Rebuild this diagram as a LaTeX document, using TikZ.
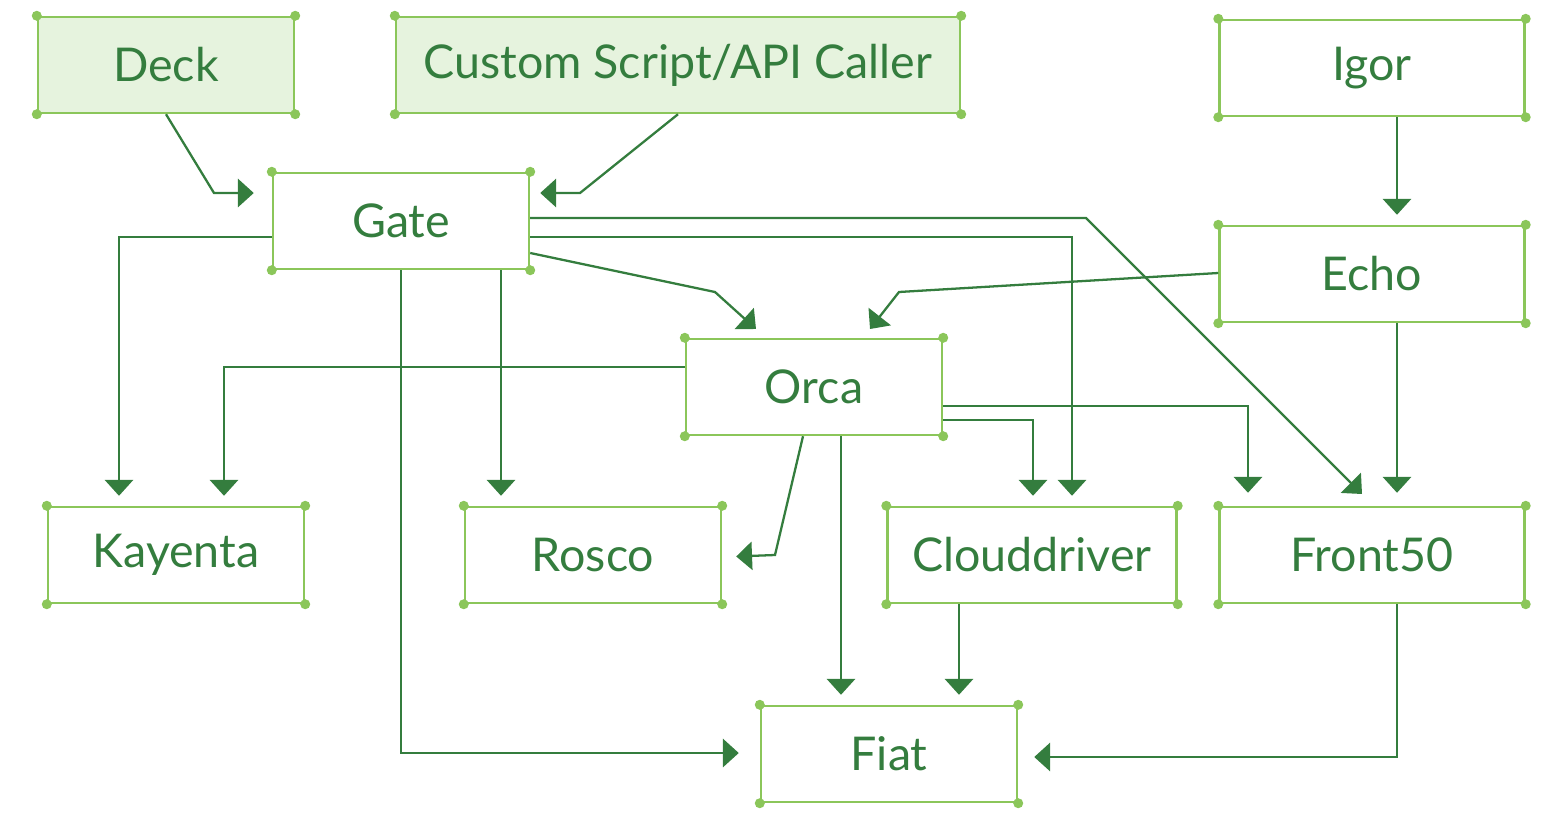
\documentclass[tikz,border=0pt]{standalone}
\usepackage{fontspec}
\setmainfont{Lato}
\usetikzlibrary{arrows.meta}
\definecolor{bord}{RGB}{139,198,90}
\definecolor{dk}{RGB}{52,125,62}
\definecolor{fl}{RGB}{230,243,222}
\tikzset{
 bx/.style={draw=bord,line width=1.4pt,text=dk,inner sep=0pt,minimum height=96*0.02cm,font=\fontsize{26.5}{30}\selectfont},
 ln/.style={draw=dk,line width=1.3pt,-{Triangle[width=16pt,length=9pt]},shorten >=10*0.02cm},
}
\newcommand{\cornerdots}[1]{\foreach \a in {north west,north east,south west,south east}{\fill[bord] (#1.\a) circle (5*0.02cm);}}
\begin{document}
\begin{tikzpicture}[x=0.02cm,y=-0.02cm]
\useasboundingbox (0,0) rectangle (1542,822);
\node[bx,fill=fl,minimum width=256*0.02cm] (deck) at (166,65) {Deck};
\node[bx,fill=fl,minimum width=564*0.02cm] (cust) at (678,65) {Custom Script/API Caller};
\node[bx,minimum width=305*0.02cm] (igor) at (1372,68) {Igor};
\node[bx,minimum width=256*0.02cm] (gate) at (401,221) {Gate};
\node[bx,minimum width=305*0.02cm] (echo) at (1372,274) {Echo};
\node[bx,minimum width=256*0.02cm] (orca) at (814,387) {Orca};
\node[bx,minimum width=256*0.02cm] (kay) at (176,555) {Kayenta};
\node[bx,minimum width=256*0.02cm] (rosco) at (593,555) {Rosco};
\node[bx,minimum width=289*0.02cm] (cloud) at (1032,555) {Clouddriver};
\node[bx,minimum width=305*0.02cm] (front) at (1372,555) {Front50};
\node[bx,minimum width=256*0.02cm] (fiat) at (889,754) {Fiat};
\foreach \n in {deck,cust,igor,gate,echo,orca,kay,rosco,cloud,front,fiat}{\cornerdots{\n}}
\draw[ln,shorten >=18*0.02cm] (deck.south) -- (214,193) -- (gate.west |- 0,193);
\draw[ln] (cust.south) -- (580,193) -- (gate.east |- 0,193);
\draw[ln] (gate.west |- 0,237) -- (119,237) -- (kay.north -| 119,0);
\draw[ln] (orca.west |- 0,367) -- (224,367) -- (kay.north -| 224,0);
\draw[ln] (gate.south -| 501,0) -- (rosco.north -| 501,0);
\draw[ln,shorten >=21*0.02cm] (gate.south) -- (401,753) -- (fiat.west |- 0,753);
\draw[ln,shorten >=0pt] (gate.east |- 0,218) -- (1086,218) -- (1362,494);
\draw[ln] (gate.east |- 0,237) -- (1072,237) -- (cloud.north -| 1072,0);
\draw[ln,shorten >=0pt] (gate.east |- 0,253) -- (715,292) -- (756,329);
\draw[ln,shorten >=0pt] (echo.west |- 0,273) -- (899,292) -- (870,329);
\draw[ln] (igor.south -| 1397,0) -- (echo.north -| 1397,0);
\draw[ln,shorten >=13*0.02cm] (echo.south -| 1397,0) -- (front.north -| 1397,0);
\draw[ln,shorten >=13*0.02cm] (orca.east |- 0,406) -- (1248,406) -- (front.north -| 1248,0);
\draw[ln] (orca.east |- 0,420) -- (1033,420) -- (cloud.north -| 1033,0);
\draw[ln,shorten >=14*0.02cm] (orca.south -| 803,0) -- (775,555) -- (rosco.east |- 0,557);
\draw[ln] (orca.south -| 841,0) -- (fiat.north -| 841,0);
\draw[ln] (cloud.south -| 959,0) -- (fiat.north -| 959,0);
\draw[ln,shorten >=16*0.02cm] (front.south -| 1397,0) -- (1397,757) -- (fiat.east |- 0,757);
\end{tikzpicture}
\end{document}
